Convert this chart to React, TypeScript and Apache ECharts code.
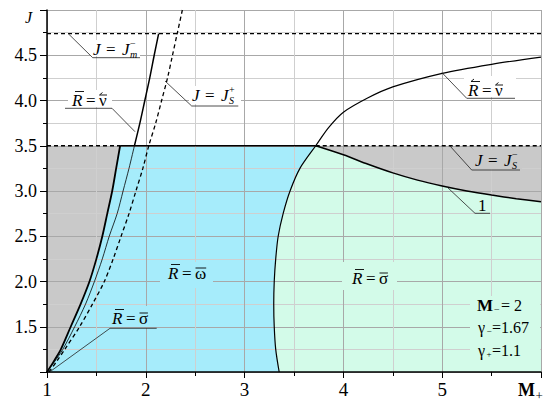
import React, { useEffect, useRef } from 'react';
import * as echarts from 'echarts';

type P = [number, number];

// ---- data ----
const xMin = 1, xMax = 6, yMin = 1, yMax = 5;
const levelJm = 4.74; // J = J_m^-
const levelJs = 3.5;  // J = J_S

// thick boundary of the grey region (left)
const boundaryNu: P[] = [[1.0, 1.0], [1.07, 1.12], [1.14, 1.25], [1.24, 1.5], [1.34, 1.75], [1.43, 2.0], [1.5, 2.25], [1.56, 2.5], [1.61, 2.75], [1.66, 3.0], [1.7, 3.25], [1.74, 3.5]];
// thin curve R = sigma (below J_S)
const thinSigma: P[] = [[1.0, 1.0], [1.08, 1.12], [1.16, 1.25], [1.28, 1.5], [1.39, 1.75], [1.48, 2.0], [1.56, 2.25], [1.63, 2.5], [1.71, 2.75], [1.77, 3.0], [1.83, 3.25], [1.885, 3.5]];
// R = nu curve above J_S (left)
const nuUpper: P[] = [[1.885, 3.5], [1.94, 3.75], [1.99, 4.0], [2.04, 4.25], [2.085, 4.5], [2.13, 4.74]];
// dashed J = J_S^+
const jsPlus: P[] = [[1.02, 1.0], [1.1, 1.12], [1.18, 1.25], [1.33, 1.5], [1.46, 1.75], [1.58, 2.0], [1.67, 2.25], [1.75, 2.5], [1.83, 2.75], [1.9, 3.0], [1.97, 3.25], [2.03, 3.5], [2.1, 3.75], [2.16, 4.0], [2.22, 4.25], [2.27, 4.5], [2.32, 4.75], [2.37, 5.0]];
// R = sigma boundary (cyan / green)
const sigmaLower: P[] = [[3.35, 1.0], [3.315, 1.25], [3.3, 1.5], [3.295, 1.75], [3.3, 2.0], [3.315, 2.25], [3.34, 2.5], [3.39, 2.75], [3.46, 3.0], [3.56, 3.25], [3.72, 3.5]];
// R = nu curve (right)
const nuRight: P[] = [[3.72, 3.5], [3.85, 3.7], [4.0, 3.87], [4.25, 4.03], [4.5, 4.15], [5.0, 4.3], [5.5, 4.4], [6.0, 4.48]];
// curve 1
const curveOne: P[] = [[3.72, 3.5], [4.0, 3.4], [4.25, 3.295], [4.5, 3.2], [4.75, 3.12], [5.0, 3.055], [5.25, 3.0], [5.5, 2.955], [5.75, 2.915], [6.0, 2.88]];

// regions
const grayLeft: P[] = [...boundaryNu, [xMin, levelJs]];
const cyanRegion: P[] = [...boundaryNu, ...sigmaLower.slice().reverse(), [xMin, yMin]];
const greenRegion: P[] = [...sigmaLower, ...curveOne.slice(1), [xMax, yMin]];
const grayRight: P[] = [...curveOne, [xMax, levelJs]];

const GRAY = '#c9c9c9';
const CYAN = '#a6ecfb';
const GREEN = '#d3fbe9';
const FONT = 'Liberation Serif';

function polySeries(pts: P[], color: string) {
  return {
    type: 'custom', coordinateSystem: 'cartesian2d', z: 1, silent: true, clip: true,
    data: pts,
    renderItem: (params: any, api: any) => {
      if (params.dataIndex !== 0) return null;
      return { type: 'polygon', shape: { points: pts.map((p) => api.coord(p)) }, style: { fill: color, stroke: 'none' } };
    },
  };
}

function lineSeries(pts: P[], width: number, type: any = 'solid', smooth: number = 0.3) {
  return {
    type: 'line', data: pts, showSymbol: false, symbol: 'none', z: 5, silent: true, smooth,
    lineStyle: { color: '#000', width, type },
  };
}

function txt(x: number, y: number, text: string, size: number, o: any = {}) {
  return {
    type: 'text', x, y, z: 100, silent: true,
    style: {
      text, fontSize: size, fontFamily: FONT, fontStyle: o.italic ? 'italic' : 'normal',
      fontWeight: o.bold ? 'bold' : 'normal', fill: '#000', align: o.align || 'left', verticalAlign: 'middle',
    },
  };
}
function ln(x1: number, y1: number, x2: number, y2: number, w = 0.9) {
  return { type: 'line', z: 100, silent: true, shape: { x1, y1, x2, y2 }, style: { stroke: '#000', lineWidth: w } };
}
function pl(points: number[][], w = 0.8) {
  return { type: 'polyline', z: 100, silent: true, shape: { points }, style: { stroke: '#222', lineWidth: w, fill: null } };
}
function box(x: number, y: number, w: number, h: number, fill: string) {
  return { type: 'rect', z: 90, silent: true, shape: { x, y, width: w, height: h }, style: { fill } };
}
function mark(kind: string, x1: number, x2: number, y: number) {
  if (kind === 'bar') return [ln(x1, y, x2, y, 0.9)];
  return [ln(x1, y, x2, y, 0.9), ln(x1, y, x1 + 3, y - 2.5, 0.9)];
}
const symW: Record<string, number> = { 'ν': 8.5, 'σ': 9.4, 'ω': 11.7 };
function eqR(x0: number, yc: number, lhsMark: string, sym: string, symMark: string) {
  return [
    txt(x0, yc, 'R', 17, { italic: true }),
    txt(x0 + 14, yc, '=', 17),
    txt(x0 + 27, yc, sym, 17),
    ...mark(lhsMark, x0 + 3, x0 + 12, yc - 8.5),
    ...mark(symMark, x0 + 27.5, x0 + 27 + symW[sym] - 0.5, yc - 5),
  ];
}
function eqJ(x0: number, yc: number, sub: string, sup: string) {
  return [
    txt(x0, yc, 'J', 17, { italic: true }),
    txt(x0 + 13, yc, '=', 17),
    txt(x0 + 29, yc, 'J', 17, { italic: true }),
    txt(x0 + 37, yc + 5, sub, 10, { italic: true }),
    txt(x0 + 37, yc - 6, sup, 10),
  ];
}

export default function App() {
  const ref = useRef<HTMLDivElement>(null);
  useEffect(() => {
    if (!ref.current) return;
    const chart = echarts.init(ref.current, undefined, { renderer: 'svg' });
    const axisCommon = {
      type: 'value', z: 3,
      axisLine: { show: true, onZero: false, lineStyle: { color: '#000', width: 1.5 } },
      splitLine: { show: true, lineStyle: { color: '#a8a8a8', width: 1 } },
      minorSplitLine: { show: true, lineStyle: { color: '#cfcfcf', width: 1 } },
    };
    chart.setOption({
      animation: false,
      backgroundColor: '#fff',
      textStyle: { fontFamily: FONT },
      grid: { left: 47, right: 9, top: 10, bottom: 34 },
      xAxis: {
        ...axisCommon, min: xMin, max: xMax, interval: 1,
        axisTick: { show: true, length: 6, lineStyle: { color: '#000', width: 1 } },
        minorTick: { show: true, splitNumber: 2, length: 4, lineStyle: { color: '#000', width: 1 } },
        axisLabel: { fontFamily: FONT, fontSize: 19, color: '#000', margin: 8, formatter: (v: number) => (v >= xMax ? '' : String(v)) },
      },
      yAxis: {
        ...axisCommon, min: yMin, max: yMax, interval: 0.5,
        axisTick: { show: true, length: 7, lineStyle: { color: '#000', width: 1 } },
        minorTick: { show: true, splitNumber: 2, length: 4, lineStyle: { color: '#000', width: 1 } },
        axisLabel: { fontFamily: FONT, fontSize: 18, color: '#000', margin: 10, formatter: (v: number) => (v <= yMin + 0.001 || v >= yMax - 0.001 ? '' : v.toFixed(1)) },
      },
      series: [
        polySeries(grayLeft, GRAY),
        polySeries(cyanRegion, CYAN),
        polySeries(greenRegion, GREEN),
        polySeries(grayRight, GRAY),
        lineSeries(boundaryNu, 1.8),
        lineSeries(thinSigma, 0.8),
        lineSeries(nuUpper, 1.5),
        lineSeries(jsPlus, 1.3, [4, 3]),
        lineSeries([...sigmaLower, ...nuRight.slice(1)], 1.2),
        lineSeries(curveOne, 1.5),
        lineSeries([[xMin, levelJm], [xMax, levelJm]], 1.3, [4, 3], 0),
        lineSeries([[xMin, levelJs], [boundaryNu[boundaryNu.length - 1][0], levelJs]], 1.3, [4, 3], 0),
        lineSeries([[boundaryNu[boundaryNu.length - 1][0], levelJs], [curveOne[0][0], levelJs]], 1.5, 'solid', 0),
        lineSeries([[curveOne[0][0], levelJs], [xMax, levelJs]], 1.3, [4, 3], 0),
      ],
      graphic: {
        elements: [
          // background boxes
          box(68, 90, 44, 17, '#fff'),
          box(90, 40, 50, 16, '#fff'),
          box(189, 86, 52, 18, '#fff'),
          box(464, 76, 52, 21, '#fff'),
          box(472, 150, 50, 19, GRAY),
          box(160, 262, 53, 26, CYAN),
          box(342, 262, 55, 28, GREEN),
          box(108, 306, 48, 21, CYAN),
          box(470, 296, 70, 75, GREEN),
          // leaders
          pl([[135, 131.7], [112, 108.3], [65, 108.3]]),
          pl([[68.3, 33.7], [92.7, 57.7], [140, 57.7]]),
          pl([[165, 81], [191.7, 106], [238.3, 106]]),
          pl([[442, 72.7], [466.7, 98.3], [515, 98.3]]),
          pl([[450, 146], [471.7, 170], [520, 170]]),
          pl([[446.7, 186.7], [475, 213.3], [490, 213.3]]),
          pl([[50, 371.7], [110, 328.3], [156.7, 328.3]]),
          // labels
          ...eqR(72, 100, 'bar', 'ν', 'arrow'),
          ...eqJ(93, 49, 'm', '−'),
          ...eqJ(192, 95, 'S', '+'),
          ...eqR(468, 90, 'arrow', 'ν', 'arrow'),
          ...eqJ(475, 160, 'S', '−'),
          txt(478, 205.5, '1', 17),
          ...eqR(168, 273, 'bar', 'ω', 'bar'),
          ...eqR(352, 278, 'bar', 'σ', 'bar'),
          ...eqR(112, 318, 'bar', 'σ', 'bar'),
          // parameters
          txt(477, 305, 'M', 17, { bold: true }),
          txt(494, 309, '−', 10),
          txt(501, 305, '= 2', 16),
          txt(478, 327.5, 'γ', 16),
          txt(486.5, 331, '−', 9),
          txt(492, 327.5, '=1.67', 16),
          txt(478, 350, 'γ', 16),
          txt(486.5, 354, '+', 9),
          txt(492, 350, '=1.1', 16),
          // axis names
          txt(28.5, 17.5, 'J', 16, { italic: true, align: 'center' }),
          txt(518, 390, 'M', 18, { bold: true }),
          txt(535.5, 395, '+', 13),
        ],
      },
    });
    return () => chart.dispose();
  }, []);
  return <div ref={ref} style={{ position: 'absolute', left: 0, top: 0, width: 550, height: 406, background: '#fff' }} />;
}
